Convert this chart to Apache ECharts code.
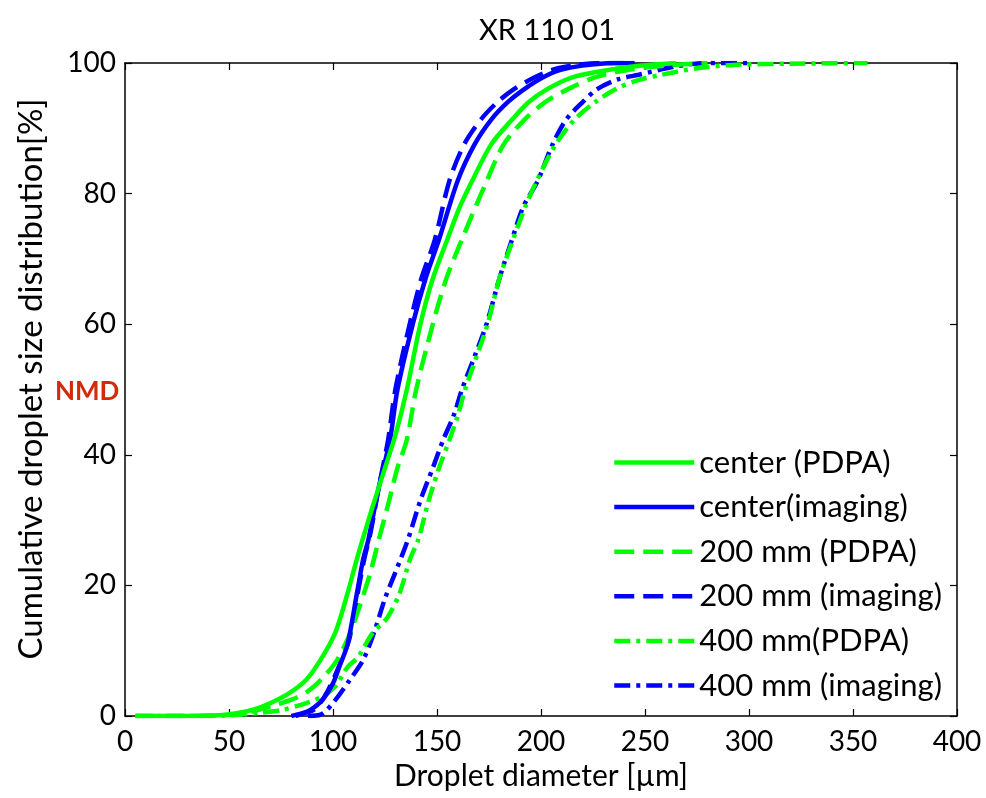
<!DOCTYPE html>
<html>
<head>
<meta charset="utf-8">
<script src="https://cdn.jsdelivr.net/npm/echarts@6/dist/echarts.min.js"></script>
<style>html,body{margin:0;padding:0;background:#fff;}#c{width:986px;height:798px;}</style>
</head>
<body>
<div id="c"></div>
<script>
// ---- data (diameter µm, cumulative %) ----
const seriesNames = ['center (PDPA)', 'center(imaging)', '200 mm (PDPA)', '200 mm (imaging)', '400 mm(PDPA)', '400 mm (imaging)'];
const xTicks = [0, 50, 100, 150, 200, 250, 300, 350, 400];
const yTicks = [0, 20, 40, 60, 80, 100];

const centerPDPA = [[5,0],[30,0],[45,0.1],[55,0.5],[62,1],[70,2],[79,3.5],[87,5.5],[94,8.6],[101,12.7],[107,18.8],[111,23.5],[114.2,27],[119.5,32.5],[125,38],[130,43],[135.5,50],[142,60],[148,67],[155,73],[161,78],[167,82],[176,87.5],[186,91.3],[194,94],[203,96],[214,97.7],[228,98.7],[245,99.5],[265,100]];
const centerImaging = [[80,0],[85,0.4],[89,0.9],[95,2.5],[100,5],[103,7.5],[107,11],[111.5,18.8],[114.5,24],[117,27],[122,35],[127.4,42.3],[131,50],[138.5,60.2],[144.5,67],[151,73],[160,82],[168,87.5],[176,91.3],[184,94],[192,96],[201,97.8],[209,98.9],[220,99.6],[235,100],[245,100]];
const mm200PDPA = [[5,0],[35,0],[50,0.2],[60,0.6],[70,1.5],[80,2.5],[88,3.8],[95,5.8],[102,8.6],[108,12.5],[113,17],[118,22],[122,27],[127,33],[131,38],[135.5,42.3],[140,50],[148,60],[154.5,67],[162,73],[174,82],[182,87.5],[192,91.3],[202,94],[213,96],[226,97.8],[241,98.9],[260,99.6],[280,100]];
const mm200Imaging = [[82,0],[87,0.5],[91,1],[96,3],[100,5.5],[104,8.5],[108,12],[112,19],[115,24],[118,28],[122,35],[126.5,42.3],[130,50],[137,60.2],[142.5,67],[149,73],[156,82],[163,87.5],[171,91.3],[179,94],[187,96],[197,97.8],[205,98.9],[215,99.6],[228,100],[240,100]];
const mm400PDPA = [[5,0],[40,0],[55,0.2],[65,0.5],[75,0.9],[87.5,2],[95,3],[101,4.5],[107,7.5],[112,9],[119,12.7],[126,15],[132,18.8],[137,24],[141,27],[146,33],[151,38],[156,42.3],[160,46],[163.5,50],[169,55],[174.5,60.2],[180,67],[186.5,72.9],[192.5,78],[198,82],[207,87.5],[216,91.3],[226,94],[236,96],[246,97.3],[258,98.2],[275,99.2],[292,99.7],[320,99.9],[357,100]];
const mm400Imaging = [[88,0],[94,0.2],[101,2.4],[108,5.5],[114.5,8.6],[120,13],[125,18],[130,22],[136,27],[142,33],[148,38],[153,42.3],[158,46],[162,50],[168,55],[174,60.2],[180,67],[186,72.9],[191.5,78],[198.5,82],[205.5,87.5],[212,91.3],[220,94],[227,96],[237,97.5],[247,98.2],[265,99.5],[280,100],[300,100]];

const seriesData = [centerPDPA, centerImaging, mm200PDPA, mm200Imaging, mm400PDPA, mm400Imaging];
const GREEN = '#00ff00', BLUE = '#0000ff';
const colors = [GREEN, BLUE, GREEN, BLUE, GREEN, BLUE];
const dashes = ['solid', 'solid', [20, 9], [20, 9], [16, 6, 4, 6], [16, 6, 4, 6]];

const FONT = 'Lato';
const chart = echarts.init(document.getElementById('c'), null, {renderer: 'canvas'});

const axisCommon = {
  min: 0,
  axisLine: {show: true, onZero: false, lineStyle: {color: '#000', width: 1.5}},
  axisTick: {show: true, inside: true, length: 7, lineStyle: {color: '#000', width: 1.2}},
  splitLine: {show: false}
};

chart.setOption({
  animation: false,
  backgroundColor: '#fff',
  title: {
    text: 'XR 110 01', left: 542, top: 11, textAlign: 'center',
    textStyle: {fontFamily: FONT, fontSize: 29, fontWeight: 'normal', color: '#000'}
  },
  grid: {left: 125, right: 29, top: 63, bottom: 82},
  legend: {
    data: seriesNames,
    orient: 'vertical', left: 607, top: 442,
    itemWidth: 80, itemHeight: 14, itemGap: 13.6,
    itemStyle: {opacity: 0},
    lineStyle: {width: 4.5},
    textStyle: {fontFamily: FONT, fontSize: 31, color: '#000', lineHeight: 30, padding: [0, 0, 0, 0]}
  },
  xAxis: [
    Object.assign({}, axisCommon, {
      type: 'value', max: 400, interval: 50, position: 'bottom',
      name: 'Droplet diameter [µm]', nameLocation: 'middle', nameGap: 45,
      nameTextStyle: {fontFamily: FONT, fontSize: 30, color: '#000'},
      axisLabel: {fontFamily: FONT, fontSize: 28, color: '#000', margin: 12,
        formatter: v => xTicks.includes(v) ? String(v) : ''}
    }),
    Object.assign({}, axisCommon, {
      type: 'value', max: 400, interval: 50, position: 'top', axisLabel: {show: false}
    })
  ],
  yAxis: [
    Object.assign({}, axisCommon, {
      type: 'value', max: 100, interval: 20, position: 'left',
      axisLabel: {fontFamily: FONT, fontSize: 28, color: '#000', margin: 9,
        formatter: v => yTicks.includes(v) ? String(v) : ''}
    }),
    Object.assign({}, axisCommon, {
      type: 'value', max: 100, interval: 20, position: 'right', axisLabel: {show: false}
    })
  ],
  graphic: [{
    type: 'text', left: 55, top: 379,
    style: {text: 'NMD', fill: '#d42a0a', font: 'bold 26px Lato'}
  }, {
    type: 'text', x: 31, y: 379, rotation: Math.PI / 2,
    style: {text: 'Cumulative droplet size distribution[%]', fill: '#000', font: '33px Lato',
      textAlign: 'center', textVerticalAlign: 'middle'}
  }],
  series: seriesData.map((d, i) => ({
    name: seriesNames[i],
    type: 'line',
    data: d,
    xAxisIndex: 0, yAxisIndex: 0,
    showSymbol: false, symbol: 'none',
    smooth: 0.3,
    color: colors[i],
    lineStyle: {color: colors[i], width: 4.5, type: dashes[i]},
    z: 10 - i
  }))
});
</script>
</body>
</html>
